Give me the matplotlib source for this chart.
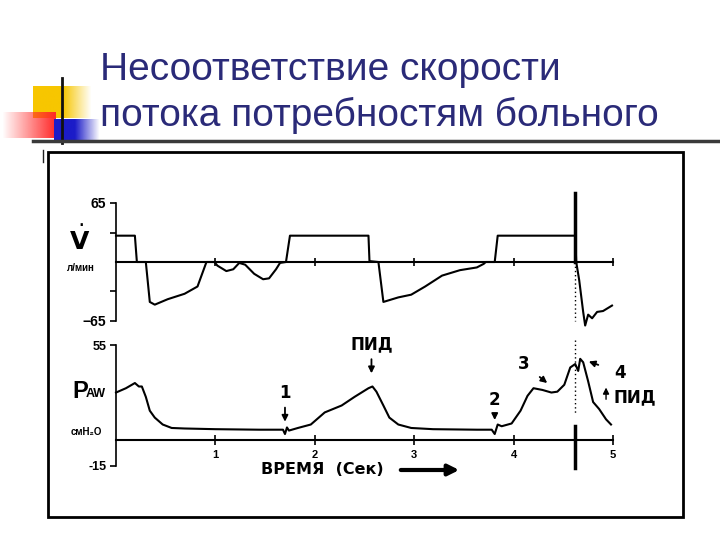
import numpy as np
import matplotlib
matplotlib.use("Agg")
import matplotlib.pyplot as plt

# slide title
title_lines = ["Несоответствие скорости", "потока потребностям больного"]

# flow curve (л/мин) vs time (сек)
flow_t = [0, 0.19, 0.21, 0.30, 0.34, 0.39, 0.52, 0.69, 0.82, 0.89, 0.91, 0.99,
          1.02, 1.11, 1.18, 1.24, 1.30, 1.39, 1.48, 1.54, 1.61, 1.65, 1.71, 1.75,
          2.54, 2.55, 2.64, 2.69, 2.72, 2.84, 2.97, 3.11, 3.28, 3.46, 3.63, 3.70,
          3.72, 3.81, 3.84, 4.62, 4.63, 4.66, 4.70, 4.72, 4.75, 4.79, 4.84, 4.90, 4.99]
flow_v = [29, 29, 0, 0, -44, -47, -41, -35, -27, -6, 0, 0,
          -4, -10, -8, -1, -3, -13, -19, -18, -8, -1, 0, 29,
          29, 1, 0, -44, -43, -39, -36, -27, -15, -9, -6, -2,
          0, 0, 29, 29, 0, -20, -55, -70, -58, -62, -55, -54, -48]

# airway pressure (смH2O) vs time
paw_t = [0, 0.10, 0.19, 0.23, 0.26, 0.30, 0.34, 0.39, 0.47, 0.56, 0.69, 1.0,
         1.44, 1.68, 1.70, 1.72, 1.74, 1.83, 1.96, 2.10, 2.27, 2.40, 2.54, 2.58,
         2.62, 2.69, 2.75, 2.84, 2.97, 3.19, 3.63, 3.78, 3.81, 3.84, 3.88, 3.98,
         4.07, 4.14, 4.20, 4.29, 4.38, 4.44, 4.51, 4.57, 4.62, 4.65, 4.67, 4.70,
         4.75, 4.80, 4.86, 4.93, 4.98]
paw_v = [27.5, 30, 33, 31, 31, 25, 17, 13, 9, 7, 6.7, 6.3,
         6, 6, 3.5, 7.3, 5.5, 7, 9, 16, 20, 25, 30, 31,
         28, 20, 13, 9, 7, 6.3, 6, 6, 3.5, 9, 8, 9.6,
         17, 25.6, 30, 29, 27.5, 28, 32, 42, 44, 40, 47, 45,
         34, 22, 18, 12, 9]

time_ticks = [1, 2, 3, 4, 5]
flow_ticks = [-65, 65]
paw_ticks = [-15, 55]
t_mark = 4.62

fig = plt.figure(figsize=(7.2, 5.4), dpi=100)
fig.patch.set_facecolor("white")

# pixel-space overlay for slide decoration
bg = fig.add_axes([0, 0, 1, 1], zorder=0)
bg.set_xlim(0, 720)
bg.set_ylim(540, 0)
bg.axis("off")

def ramp(color, n, solid):
    a = np.ones(n)
    k = int(n * solid)
    a[k:] = np.linspace(1, 0, n - k)
    img = np.zeros((1, n, 4))
    img[0, :, :3] = matplotlib.colors.to_rgb(color)
    img[0, :, 3] = a
    return img

bg.imshow(ramp("#f7c600", 60, 0.5), extent=(33, 92, 118, 86), aspect="auto", zorder=1)
red = ramp("#ff2828", 60, 0.0)[:, ::-1]
bg.imshow(red, extent=(2, 56, 138, 112), aspect="auto", zorder=2)
bg.imshow(ramp("#1c1cc8", 60, 0.45), extent=(54, 100, 143, 119), aspect="auto", zorder=3)
bg.plot([61.5, 61.5], [78, 143], color="#111111", lw=2, zorder=4)
bg.plot([33, 720], [141, 141], color="#3a3a3a", lw=2.5, zorder=4)
bg.plot([43, 43], [150, 162], color="#222222", lw=1, zorder=4)

for i, line in enumerate(title_lines):
    bg.text(100, 80 + 46 * i, line, fontsize=28, color="#2a2a78",
            family="Liberation Sans", va="baseline", ha="left")

# chart frame
bg.add_patch(plt.Rectangle((48, 152), 635, 365, fill=False, lw=2, ec="black", zorder=4))

lab = dict(family="Liberation Sans", fontweight="bold", color="black")
big = dict(family="DejaVu Sans", fontweight="bold", color="black")

# flow panel
ax1 = fig.add_axes([116 / 720, 1 - 321 / 540, 497 / 720, 118 / 540], zorder=2)
ax1.patch.set_alpha(0)
ax1.set_xlim(0, 5)
ax1.set_ylim(-65, 65)
ax1.plot(flow_t, flow_v, color="black", lw=1.5, clip_on=False)
for s in ["top", "right"]:
    ax1.spines[s].set_visible(False)
ax1.spines["bottom"].set_position(("data", 0))
ax1.spines["bottom"].set_linewidth(1.5)
ax1.spines["left"].set_linewidth(1.2)
ax1.set_xticks(time_ticks)
ax1.tick_params(axis="x", direction="inout", length=6, width=1.2, labelbottom=False)
ax1.set_yticks(flow_ticks)
ax1.set_yticklabels(["−65", "65"], **lab, fontsize=10)
ax1.set_yticks([-32, 32], minor=True)
ax1.tick_params(axis="y", which="both", direction="out", length=4, width=1.2, pad=3)
ax1.plot([t_mark, t_mark], [0, 76], color="black", lw=2.5, clip_on=False)
ax1.plot([t_mark, t_mark], [0, -65], color="black", lw=1, ls=(0, (1, 2)), clip_on=False)

# pressure panel
ax2 = fig.add_axes([116 / 720, 1 - 466 / 540, 497 / 720, 121 / 540], zorder=2)
ax2.patch.set_alpha(0)
ax2.set_xlim(0, 5)
ax2.set_ylim(-15, 55)
ax2.plot(paw_t, paw_v, color="black", lw=1.5, clip_on=False)
for s in ["top", "right"]:
    ax2.spines[s].set_visible(False)
ax2.spines["bottom"].set_position(("data", 0))
ax2.spines["bottom"].set_linewidth(1.5)
ax2.spines["left"].set_linewidth(1.2)
ax2.set_xticks(time_ticks)
ax2.set_xticklabels([str(v) for v in time_ticks], **lab, fontsize=8)
ax2.tick_params(axis="x", direction="inout", length=7, width=1.2, pad=4)
ax2.set_yticks(paw_ticks)
ax2.set_yticklabels(["-15", "55"], **lab, fontsize=9)
ax2.tick_params(axis="y", direction="out", length=4, width=1.2, pad=3)
ax2.plot([t_mark, t_mark], [58, 15], color="black", lw=1, ls=(0, (1, 2)), clip_on=False)
ax2.plot([t_mark, t_mark], [8, -16], color="black", lw=2.5, clip_on=False)

arr = dict(arrowstyle="-|>", color="black", lw=1.3, mutation_scale=9)
ax2.annotate("ПИД", xy=(2.57, 37), xytext=(2.57, 50), ha="center", va="bottom",
             arrowprops=arr, fontsize=12, **big, annotation_clip=False)
ax2.annotate("1", xy=(1.70, 9), xytext=(1.70, 22), ha="center", va="bottom",
             arrowprops=arr, fontsize=12, **big, annotation_clip=False)
ax2.annotate("2", xy=(3.81, 10), xytext=(3.81, 18), ha="center", va="bottom",
             arrowprops=arr, fontsize=12, **big, annotation_clip=False)
ax2.annotate("3", xy=(4.36, 32), xytext=(4.10, 44), ha="center", va="center",
             arrowprops=dict(arr, shrinkA=7), fontsize=12, **big, annotation_clip=False)
ax2.annotate("4", xy=(4.73, 46), xytext=(5.07, 39), ha="center", va="center",
             arrowprops=dict(arr, shrinkA=10), fontsize=12, **big, annotation_clip=False)
ax2.annotate("", xy=(4.93, 32), xytext=(4.93, 22), arrowprops=dict(arr, lw=1),
             annotation_clip=False)
ax2.text(5.22, 25, "ПИД", ha="center", va="center", fontsize=12, **big)

# axis titles
bg.text(80, 240, r"$\dot{\mathbf{V}}$", ha="center", va="center", fontsize=18, color="black")
bg.text(81, 268, "л/мин", ha="center", va="center", fontsize=7, **lab)
bg.text(72, 392, "P", ha="left", va="center", fontsize=17, **lab)
bg.text(86, 394, "AW", ha="left", va="center", fontsize=9, **lab)
bg.text(86, 432, "смH₂O", ha="center", va="center", fontsize=7, **lab)
bg.text(322, 470, "ВРЕМЯ  (Сек)", ha="center", va="center", fontsize=11.5, **big)
bg.annotate("", xy=(462, 470), xytext=(398, 470),
            arrowprops=dict(arrowstyle="-|>", color="black", lw=3, mutation_scale=16))

fig.savefig("out.png", dpi=100, facecolor="white")
